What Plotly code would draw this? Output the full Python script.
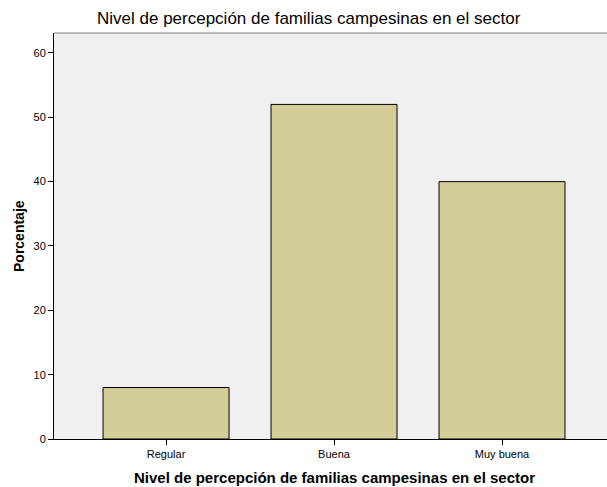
import plotly.graph_objects as go

categories = ["Regular", "Buena", "Muy buena"]
values = [8, 52, 40]
y_ticks = [0, 10, 20, 30, 40, 50, 60]

title_text = "Nivel de percepción de familias campesinas en el sector"
x_title = "Nivel de percepción de familias campesinas en el sector"
y_title = "Porcentaje"

fig = go.Figure()
fig.add_trace(go.Bar(
    x=categories, y=values,
    width=0.75,
    marker=dict(color="#D3CE97", line=dict(color="#000000", width=1)),
    hoverinfo="skip",
))

fig.update_layout(
    width=607, height=487,
    margin=dict(l=54, r=0, t=33, b=48, autoexpand=False),
    paper_bgcolor="white",
    plot_bgcolor="#F0F0F0",
    font=dict(family="Liberation Sans, Arial, sans-serif", color="black"),
    showlegend=False,
    shapes=[dict(type="line", xref="paper", yref="paper", x0=0, x1=1, y0=1, y1=1,
                 line=dict(color="#808080", width=1))],
    annotations=[
        dict(text=title_text, xref="paper", yref="paper",
             x=(309 - 54) / 553, y=1 + (33 - 19) / 406, xanchor="center", yanchor="middle",
             showarrow=False, font=dict(size=17, color="black")),
        dict(text="<b>" + x_title + "</b>", xref="paper", yref="paper",
             x=(334 - 54) / 553, y=-(477 - 439) / 406, xanchor="center", yanchor="middle",
             showarrow=False, font=dict(size=15, color="black")),
        dict(text="<b>" + y_title + "</b>", xref="paper", yref="paper",
             x=-(54 - 19) / 553, y=(439 - 236) / 406, xanchor="center", yanchor="middle",
             textangle=-90, showarrow=False, font=dict(size=14, color="black")),
    ],
)
fig.update_xaxes(
    type="category", range=[-0.667, 2.625], automargin=False,
    showline=True, linecolor="black", linewidth=1,
    ticks="outside", ticklen=5, tickcolor="black",
    tickfont=dict(size=11),
    showgrid=False, zeroline=False,
)
fig.update_yaxes(
    range=[0, 63.1], tickvals=y_ticks, automargin=False,
    showline=True, linecolor="black", linewidth=1,
    ticks="outside", ticklen=5, tickcolor="black",
    tickfont=dict(size=11),
    showgrid=False, zeroline=False,
)

fig.write_html("out.html",
               config={"displayModeBar": False, "staticPlot": True},
               post_script="document.body.style.margin='0';document.body.style.overflow='hidden';")
